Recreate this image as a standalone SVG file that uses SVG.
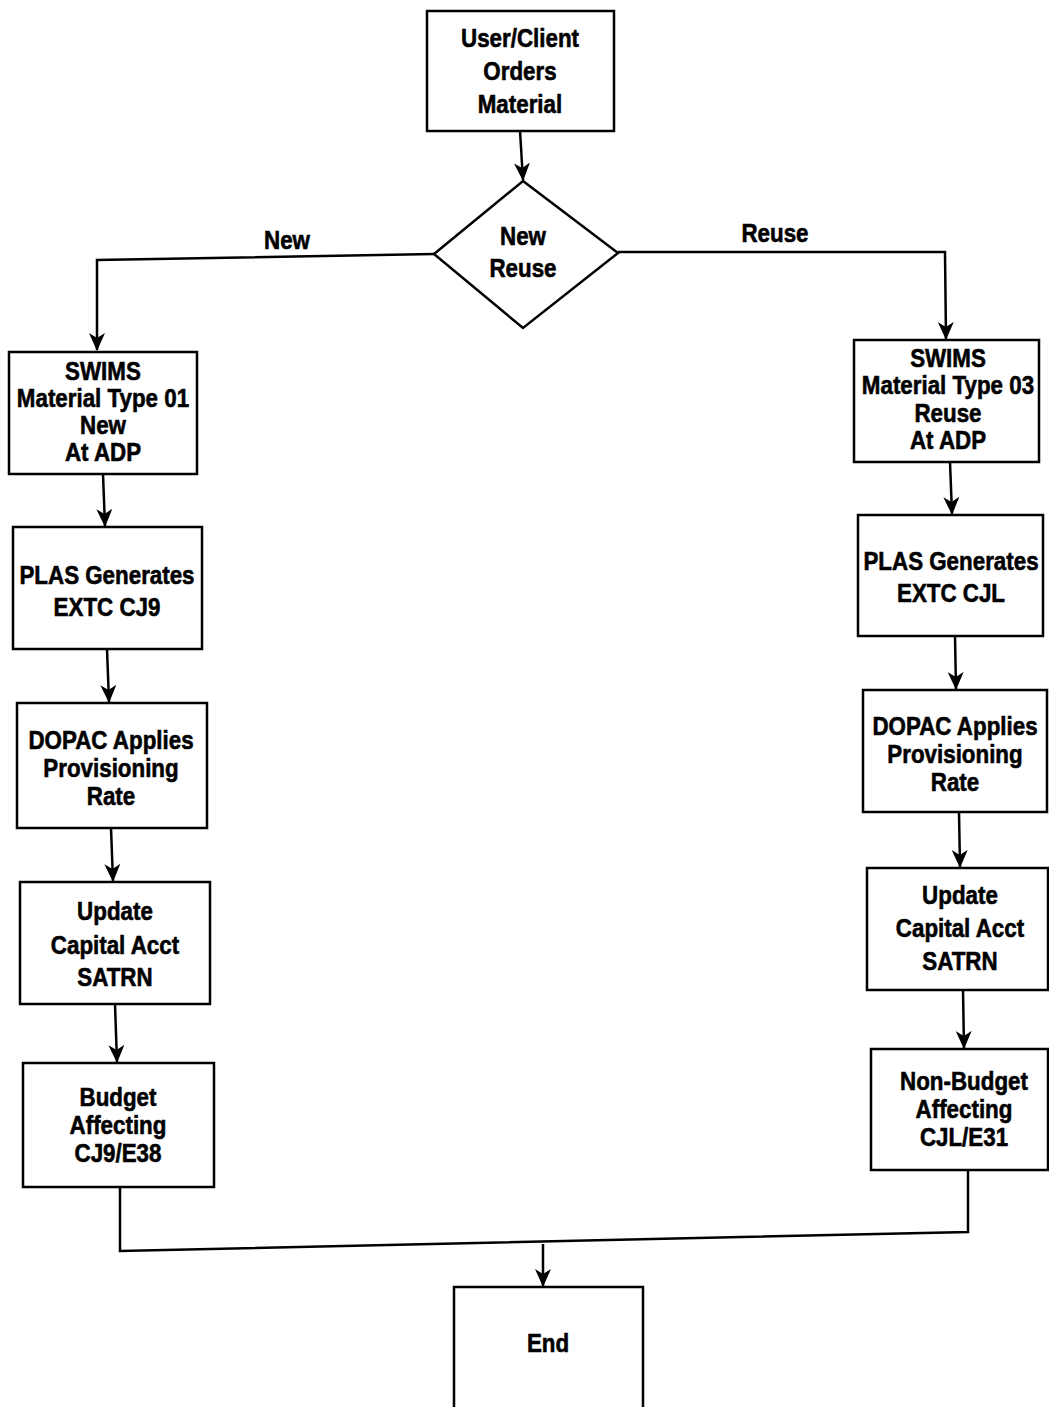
<svg xmlns="http://www.w3.org/2000/svg" width="1049" height="1407" viewBox="0 0 1049 1407">
<style>
.box{fill:#fff;stroke:#000;stroke-width:2.5}
.t{font-family:"Liberation Sans",Arial,sans-serif;font-weight:bold;font-size:26px;fill:#000;stroke:#000;stroke-width:0.6;text-anchor:middle;transform-box:fill-box;transform-origin:center;transform:scaleX(0.86)}
.c{fill:none;stroke:#000;stroke-width:2.5}
</style>
<defs>
<marker id="ah" viewBox="0 0 18 16" refX="17" refY="8" markerWidth="18" markerHeight="16" markerUnits="userSpaceOnUse" orient="auto">
<path d="M0,0 L18,8 L0,16 L5,8 z" fill="#000"/>
</marker>
</defs>
<rect width="1049" height="1407" fill="#fff"/>
<g id="connectors">
<line class="c" x1="520" y1="131" x2="523" y2="180" marker-end="url(#ah)"/>
<polyline class="c" points="434,254 97,260 97,350" marker-end="url(#ah)"/>
<polyline class="c" points="618,252 945,252 946,339" marker-end="url(#ah)"/>
<line class="c" x1="103" y1="474" x2="105" y2="526" marker-end="url(#ah)"/>
<line class="c" x1="107" y1="649" x2="109" y2="702" marker-end="url(#ah)"/>
<line class="c" x1="111" y1="828" x2="113" y2="881" marker-end="url(#ah)"/>
<line class="c" x1="115" y1="1004" x2="117" y2="1062" marker-end="url(#ah)"/>
<line class="c" x1="950" y1="462" x2="952" y2="514" marker-end="url(#ah)"/>
<line class="c" x1="955" y1="636" x2="956" y2="689" marker-end="url(#ah)"/>
<line class="c" x1="959" y1="812" x2="960" y2="867" marker-end="url(#ah)"/>
<line class="c" x1="963" y1="990" x2="964" y2="1048" marker-end="url(#ah)"/>
<polyline class="c" points="120,1187 120,1251 968,1232 968,1170"/>
<line class="c" x1="543" y1="1244" x2="543" y2="1286" marker-end="url(#ah)"/>
<text class="t" x="287" y="249">New</text>
<text class="t" x="775" y="242">Reuse</text>
</g>
<g id="start">
<rect class="box" x="427" y="11" width="187" height="120"/>
<text class="t" x="520" y="47">User/Client</text>
<text class="t" x="520" y="80">Orders</text>
<text class="t" x="520" y="113">Material</text>
</g>
<g id="decision">
<polygon class="box" points="523,181 618,253 523,328 434,254"/>
<text class="t" x="523" y="245">New</text>
<text class="t" x="523" y="277">Reuse</text>
</g>
<g id="new-swims">
<rect class="box" x="9" y="352" width="188" height="122"/>
<text class="t" x="103" y="380">SWIMS</text>
<text class="t" x="103" y="407">Material Type 01</text>
<text class="t" x="103" y="434">New</text>
<text class="t" x="103" y="461">At ADP</text>
</g>
<g id="new-plas">
<rect class="box" x="13" y="527" width="189" height="122"/>
<text class="t" x="107" y="584">PLAS Generates</text>
<text class="t" x="107" y="616">EXTC CJ9</text>
</g>
<g id="new-dopac">
<rect class="box" x="17" y="703" width="190" height="125"/>
<text class="t" x="111" y="749">DOPAC Applies</text>
<text class="t" x="111" y="777">Provisioning</text>
<text class="t" x="111" y="805">Rate</text>
</g>
<g id="new-update">
<rect class="box" x="20" y="882" width="190" height="122"/>
<text class="t" x="115" y="920">Update</text>
<text class="t" x="115" y="954">Capital Acct</text>
<text class="t" x="115" y="986">SATRN</text>
</g>
<g id="new-budget">
<rect class="box" x="23" y="1063" width="191" height="124"/>
<text class="t" x="118" y="1106">Budget</text>
<text class="t" x="118" y="1134">Affecting</text>
<text class="t" x="118" y="1162">CJ9/E38</text>
</g>
<g id="reuse-swims">
<rect class="box" x="854" y="340" width="185" height="122"/>
<text class="t" x="948" y="367">SWIMS</text>
<text class="t" x="948" y="394">Material Type 03</text>
<text class="t" x="948" y="422">Reuse</text>
<text class="t" x="948" y="449">At ADP</text>
</g>
<g id="reuse-plas">
<rect class="box" x="858" y="515" width="185" height="121"/>
<text class="t" x="951" y="570">PLAS Generates</text>
<text class="t" x="951" y="602">EXTC CJL</text>
</g>
<g id="reuse-dopac">
<rect class="box" x="863" y="690" width="184" height="122"/>
<text class="t" x="955" y="735">DOPAC Applies</text>
<text class="t" x="955" y="763">Provisioning</text>
<text class="t" x="955" y="791">Rate</text>
</g>
<g id="reuse-update">
<rect class="box" x="867" y="868" width="181" height="122"/>
<text class="t" x="960" y="904">Update</text>
<text class="t" x="960" y="937">Capital Acct</text>
<text class="t" x="960" y="970">SATRN</text>
</g>
<g id="reuse-nonbudget">
<rect class="box" x="871" y="1049" width="177" height="121"/>
<text class="t" x="964" y="1090">Non-Budget</text>
<text class="t" x="964" y="1118">Affecting</text>
<text class="t" x="964" y="1146">CJL/E31</text>
</g>
<g id="end">
<rect class="box" x="454" y="1287" width="189" height="125"/>
<text class="t" x="548" y="1352">End</text>
</g>
</svg>
